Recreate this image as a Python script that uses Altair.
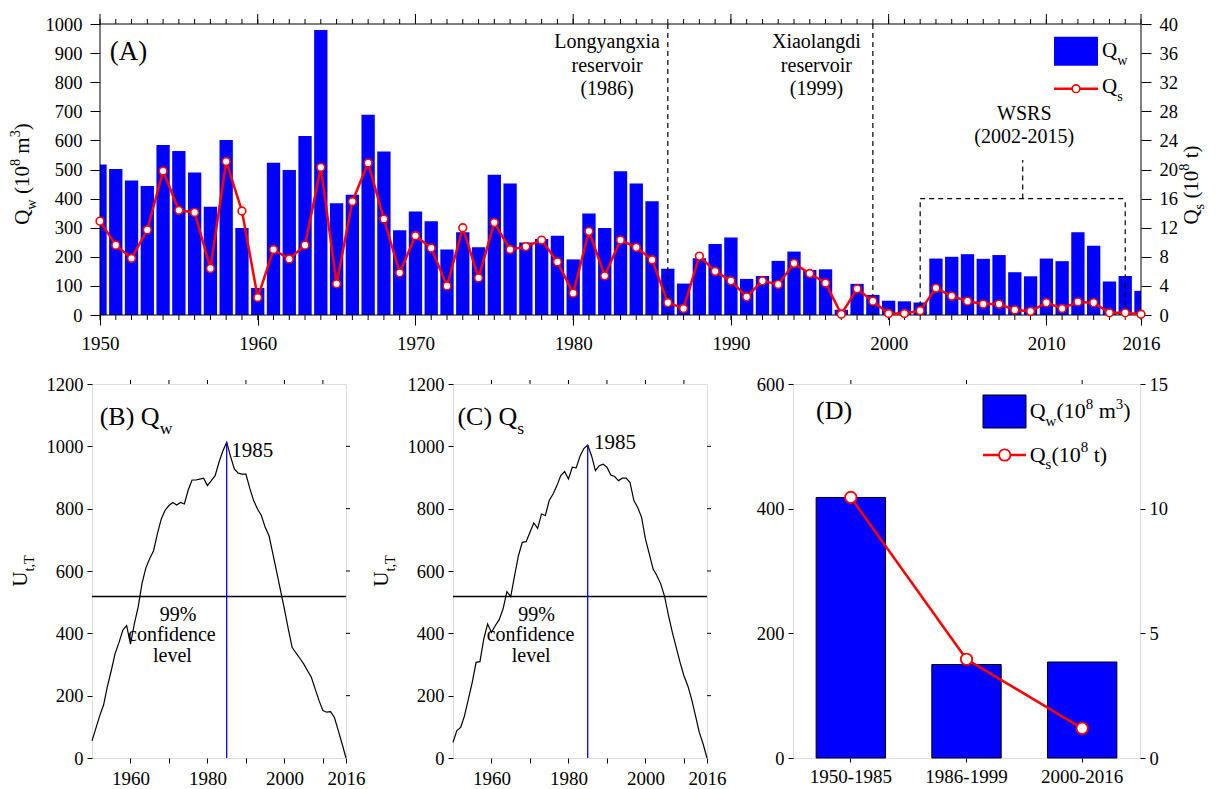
import altair as alt
import pandas as pd

FONT = "Liberation Serif"

# ---------------- data ----------------
years = list(range(1950, 2017))
qw = [517, 502, 462, 443, 584, 564, 490, 372, 601, 299,
      93, 523, 498, 615, 979, 384, 413, 688, 562, 291,
      356, 322, 225, 284, 233, 482, 452, 249, 261, 272,
      191, 349, 299, 494, 452, 391, 159, 108, 195, 244,
      266, 124, 134, 186, 218, 155, 157, 18, 107, 69,
      49, 47, 43, 194, 200, 209, 193, 206, 147, 133,
      194, 185, 284, 238, 115, 134, 83]
qs = [12.9, 9.6, 7.8, 11.7, 19.8, 14.4, 14.1, 6.4, 21.1, 14.3,
      2.4, 9.0, 7.7, 9.6, 20.3, 4.3, 15.6, 20.9, 13.2, 5.8,
      10.9, 9.2, 4.0, 12.0, 5.1, 12.7, 9.0, 9.4, 10.3, 7.3,
      3.0, 11.5, 5.4, 10.3, 9.3, 7.6, 1.7, 0.9, 8.1, 6.0,
      4.7, 2.5, 4.7, 4.2, 7.1, 5.7, 4.4, 0.1, 3.6, 1.9,
      0.2, 0.2, 0.6, 3.7, 2.6, 1.9, 1.5, 1.5, 0.7, 0.5,
      1.7, 0.9, 1.8, 1.7, 0.3, 0.3, 0.1]
ut_qw = [55, 95, 135, 170, 230, 280, 335, 370, 410, 425,
         365, 430, 485, 560, 610, 640, 665, 720, 767, 795,
         810, 820, 812, 820, 815, 860, 892, 892, 895, 898,
         874, 890, 906, 949, 985, 1013, 968, 927, 914, 911,
         911, 865, 826, 799, 778, 740, 713, 655, 596, 537,
         478, 414, 355, 337, 320, 302, 280, 259, 221, 184,
         152, 147, 149, 130, 88, 45, 0]
ut_qs = [50, 88, 98, 136, 189, 243, 307, 309, 382, 430,
         403, 425, 444, 478, 534, 518, 585, 649, 692, 694,
         724, 754, 737, 783, 778, 826, 847, 874, 906, 919,
         895, 933, 931, 968, 993, 1004, 970, 922, 938, 943,
         933, 908, 903, 890, 898, 898, 884, 826, 804, 772,
         703, 655, 606, 585, 558, 518, 457, 403, 355, 307,
         264, 232, 189, 136, 82, 45, 0]
periods = ["1950-1985", "1986-1999", "2000-2016"]
period_qw = [418, 150, 154]
period_qs = [10.45, 3.96, 1.19]
reservoir_years = [1986, 1999]
threshold = 518
change_year = 1985
x_major_a = [1950, 1960, 1970, 1980, 1990, 2000, 2010, 2016]
x_ticks_b = [1960, 1970, 1980, 1990, 2000, 2010, 2016]

# ---------------- sizes ----------------
SHIFT = 8                     # panel A frame sits 8 px right of the row-2 origin
WA0, HA = 1041, 291           # panel A frame size
WA = WA0 + SHIFT
PXY = WA0 / 66.0              # px per year in panel A
WB, HB = 254, 374
WD = 347

ONE = pd.DataFrame({"k": [0]})
ax = dict(labelFont=FONT, labelColor="black", tickColor="black", tickWidth=1,
          domain=False, grid=False, title=None)

CW = {"Q": 0.722, "w": 0.722, "s": 0.389, " ": 0.25, "(": 0.333, ")": 0.333,
      "m": 0.778, "t": 0.278, "U": 0.722, ",": 0.25, "T": 0.611, "A": 0.722,
      "B": 0.667, "C": 0.667, "D": 0.722, "%": 0.833}


def tw(s, fs):
    return sum(CW.get(c, 0.5) for c in s) * fs


def text_marks(pieces, fs, x0, y0, angle=0, center=False, subdrop=0.35):
    items, off = [], 0.0
    for t, k in pieces:
        s = fs if k == "n" else fs * 0.68
        d = 0.0 if k == "n" else (subdrop * fs if k == "sub" else -0.42 * fs)
        lead = len(t) - len(t.lstrip(" "))
        off += lead * 0.25 * s
        t2 = t.strip(" ")
        items.append((t2, s, off, d))
        off += tw(t2, s)
    total = off
    charts = []
    for t, s, o, d in items:
        if center:
            o -= total / 2
        if angle == 0:
            px, py = x0 + o, y0 + d
        else:
            px, py = x0 + d, y0 - o
        charts.append(
            alt.Chart(ONE).mark_text(font=FONT, fontSize=s, align="left",
                                     baseline="alphabetic", angle=angle, color="black")
            .encode(x=alt.value(px), y=alt.value(py), text=alt.value(t))
        )
    return charts


# ================= Panel A =================
dfa = pd.DataFrame({"year": years, "qw": qw, "qs": qs})
xA = alt.Scale(domain=[1950 - SHIFT / PXY, 2016], nice=False, zero=False)
yA = alt.Scale(domain=[0, 1000], nice=False)
yA2 = alt.Scale(domain=[0, 40], nice=False)
axXA = alt.Axis(values=x_major_a, format="d", tickSize=10, labelFontSize=19, labelPadding=9,
                labelFlush=False, labelOverlap=False, **ax)
axYA = alt.Axis(values=list(range(0, 1001, 100)), format="d", tickSize=10, labelFontSize=18.5,
                labelPadding=8, offset=-SHIFT, **ax)
axYA2 = alt.Axis(orient="right", values=list(range(0, 41, 4)), format="d", tickSize=10,
                 labelFontSize=18.5, labelPadding=8, **ax)


def XA(f="year"):
    return alt.X(f + ":Q", scale=xA, axis=axXA)


def YA(f):
    return alt.Y(f + ":Q", scale=yA, axis=axYA)


bars_a = alt.Chart(dfa).transform_calculate(
    x0="max(datum.year - 0.422, 1950)", x1="min(datum.year + 0.422, 2016)"
).mark_rect(color="#0000ff").encode(x=XA("x0"), x2="x1:Q", y=YA("qw"), y2=alt.datum(0))

frame = pd.DataFrame({"x": [1950, 1950, 1950, 2016], "x2": [2016, 2016, 1950, 2016],
                      "y": [0, 1000, 0, 0], "y2": [0, 1000, 1000, 1000]})
frame_a = alt.Chart(frame).mark_rule(color="black", strokeWidth=1).encode(
    x=XA("x"), x2="x2:Q", y=YA("y"), y2="y2:Q")

dfy = pd.DataFrame({"year": years})
dfmaj = pd.DataFrame({"year": x_major_a})
tick_bot = alt.Chart(dfy).mark_rule(color="black").encode(x=XA(), y=alt.value(HA), y2=alt.value(HA + 5))
tick_top = alt.Chart(dfy).mark_rule(color="black").encode(x=XA(), y=alt.value(0), y2=alt.value(-5))
tick_top_maj = alt.Chart(dfmaj).mark_rule(color="black").encode(x=XA(), y=alt.value(0), y2=alt.value(-10))

res_rules = alt.Chart(pd.DataFrame({"year": reservoir_years})).mark_rule(
    color="black", strokeDash=[5, 4], strokeWidth=1.2).encode(x=XA())

bracket = pd.DataFrame({"x": [2002, 2002, 2015, 2008.5], "x2": [2015, 2002, 2015, 2008.5],
                        "y": [400, 30, 30, 400], "y2": [400, 400, 400, 533]})
wsrs = alt.Chart(bracket).mark_rule(color="black", strokeDash=[5, 4], strokeWidth=1.2).encode(
    x=XA("x"), x2="x2:Q", y=YA("y"), y2="y2:Q")

ann_a = pd.DataFrame({
    "year": [1982.15] * 3 + [1995.42] * 3 + [2008.6] * 2,
    "val": [937, 856, 778, 937, 856, 778, 692, 611],
    "text": ["Longyangxia", "reservoir", "(1986)", "Xiaolangdi", "reservoir", "(1999)",
             "WSRS", "(2002-2015)"]})
ann_a_txt = alt.Chart(ann_a).mark_text(font=FONT, fontSize=20, align="center", baseline="middle",
                                       color="black").encode(x=XA(), y=YA("val"), text="text:N")

S = SHIFT
leg_rect_a = alt.Chart(ONE).mark_rect(color="#0000ff").encode(
    x=alt.value(S + 954), x2=alt.value(S + 998), y=alt.value(12.7), y2=alt.value(41.7))
leg_line_a = alt.Chart(ONE).mark_rule(color="red", strokeWidth=2.5).encode(
    x=alt.value(S + 954), x2=alt.value(S + 998), y=alt.value(64.7))
leg_pt_a = alt.Chart(ONE).mark_circle(size=60, fill="white", stroke="red", strokeWidth=1.6,
                                      opacity=1).encode(x=alt.value(S + 976), y=alt.value(64.7))

texts_a = []
texts_a += text_marks([("(A)", "n")], 27, S + 9.7, 36)
texts_a += text_marks([("Q", "n"), ("w", "sub")], 21, S + 1002, 33.4)
texts_a += text_marks([("Q", "n"), ("s", "sub")], 21, S + 1002, 69.4)
texts_a += text_marks([("Q", "n"), ("w", "sub"), (" (10", "n"), ("8", "sup"), (" m", "n"),
                       ("3", "sup"), (")", "n")], 21, S - 71, 150, angle=270, center=True)
texts_a += text_marks([("Q", "n"), ("s", "sub"), (" (10", "n"), ("8", "sup"), (" t)", "n")],
                      21, S + 1098, 161, angle=270, center=True, subdrop=0.28)

YA2 = alt.Y("qs:Q", scale=yA2, axis=axYA2)
line_a = alt.Chart(dfa).mark_line(color="red", strokeWidth=2.5).encode(x=XA(), y=YA2)
pts_a = alt.Chart(dfa).mark_circle(size=60, fill="white", stroke="red", strokeWidth=1.6,
                                   opacity=1).encode(x=XA(), y=YA2)

left_a = alt.layer(bars_a, frame_a, tick_bot, tick_top, tick_top_maj, res_rules, wsrs, ann_a_txt,
                   leg_rect_a, leg_line_a, leg_pt_a, *texts_a)
right_a = alt.layer(line_a, pts_a)
panel_a = alt.layer(left_a, right_a).resolve_scale(y="independent").properties(
    width=WA, height=HA, view=alt.ViewBackground(stroke="transparent"))


# ================= Panels B, C =================
def ut_panel(vals, letter, sub, lbl_x, yr_xy, conf_x):
    df = pd.DataFrame({"year": years, "u": vals})
    xs = alt.Scale(domain=[1950, 2016], nice=False, zero=False)
    ys = alt.Scale(domain=[0, 1200], nice=False)
    axx = alt.Axis(values=x_ticks_b, format="d", tickSize=5, labelFontSize=19, labelPadding=6,
                   labelFlush=False, labelOverlap=False,
                   labelExpr="(datum.value % 20 == 0 || datum.value == 2016) ? datum.label : ''", **ax)
    axy = alt.Axis(values=list(range(0, 1201, 200)), format="d", tickSize=5, labelFontSize=18.5,
                   labelPadding=4, **ax)

    def X():
        return alt.X("year:Q", scale=xs, axis=axx)

    def Y(f):
        return alt.Y(f + ":Q", scale=ys, axis=axy)

    curve = alt.Chart(df).mark_line(color="black", strokeWidth=1.2).encode(x=X(), y=Y("u"))
    thr = alt.Chart(pd.DataFrame({"u": [threshold]})).mark_rule(color="black", strokeWidth=1.5).encode(
        y=Y("u"))
    peak = vals[years.index(change_year)]
    cp = alt.Chart(pd.DataFrame({"year": [change_year], "u0": [0], "u1": [peak]})).mark_rule(
        color="#0000ff", strokeWidth=1.3).encode(x=X(), y=Y("u0"), y2="u1:Q")
    ttop = alt.Chart(pd.DataFrame({"year": x_ticks_b[:-1]})).mark_rule(color="black").encode(
        x=X(), y=alt.value(0), y2=alt.value(-4))
    tright = alt.Chart(pd.DataFrame({"u": list(range(200, 1001, 200))})).mark_rule(color="black").encode(
        y=Y("u"), x=alt.value(WB), x2=alt.value(WB + 4))
    txt = []
    txt += text_marks([("(" + letter + ") Q", "n"), (sub, "sub")], 26, lbl_x, 41)
    txt += text_marks([(str(change_year), "n")], 21, yr_xy[0], yr_xy[1])
    for line, py in zip(["99%", "confidence", "level"], [236.7, 256.7, 278.3]):
        txt += text_marks([(line, "n")], 20, conf_x, py, center=True)
    txt += text_marks([("U", "n"), ("t,T", "sub")], 21, -65, 187, angle=270, center=True)
    return alt.layer(curve, thr, cp, ttop, tright, *txt).properties(width=WB, height=HB)


panel_b = ut_panel(ut_qw, "B", "w", 7.7, (139.3, 73.3), 86)
panel_c = ut_panel(ut_qs, "C", "s", 4.4, (141, 65), 83.7)

# ================= Panel D =================
dfd = pd.DataFrame({"period": periods, "qw": period_qw, "qs": period_qs})
xD = alt.Scale(domain=periods, paddingInner=0.4, paddingOuter=0.2)
axXD = alt.Axis(labelAngle=0, tickSize=4, labelFontSize=19, labelPadding=5, **ax)
XD = alt.X("period:N", scale=xD, sort=periods, axis=axXD)
ysD2 = alt.Scale(domain=[0, 15], nice=False)
YD2 = alt.Y("qs:Q", scale=ysD2, axis=alt.Axis(orient="right", values=[0, 5, 10, 15], tickSize=5,
                                               labelFontSize=18.5, labelPadding=4, **ax))
bars_d = alt.Chart(dfd).mark_bar(color="#0000ff", stroke="black", strokeWidth=1).encode(
    x=XD, y=alt.Y("qw:Q", scale=alt.Scale(domain=[0, 600], nice=False),
                  axis=alt.Axis(values=[0, 200, 400, 600], tickSize=5, labelFontSize=18.5,
                                labelPadding=4, **ax)))
ttop_d = alt.Chart(dfd).mark_rule(color="black").encode(x=XD, y=alt.value(0), y2=alt.value(-4))
leg_rect_d = alt.Chart(ONE).mark_rect(color="#0000ff", stroke="black", strokeWidth=1).encode(
    x=alt.value(190), x2=alt.value(233), y=alt.value(11), y2=alt.value(44))
leg_line_d = alt.Chart(ONE).mark_rule(color="red", strokeWidth=2.5).encode(
    x=alt.value(190), x2=alt.value(233), y=alt.value(71))
leg_pt_d = alt.Chart(ONE).mark_circle(size=130, fill="white", stroke="red", strokeWidth=1.8,
                                      opacity=1).encode(x=alt.value(211.7), y=alt.value(71))
texts_d = []
texts_d += text_marks([("(D)", "n")], 26, 23, 35)
texts_d += text_marks([("Q", "n"), ("w", "sub"), ("(10", "n"), ("8", "sup"), (" m", "n"),
                       ("3", "sup"), (")", "n")], 22, 236.7, 34.3)
texts_d += text_marks([("Q", "n"), ("s", "sub"), ("(10", "n"), ("8", "sup"), (" t)", "n")],
                      22, 236.7, 77.7)
line_d = alt.Chart(dfd).mark_line(color="red", strokeWidth=2.5).encode(x=XD, y=YD2)
pts_d = alt.Chart(dfd).mark_circle(size=130, fill="white", stroke="red", strokeWidth=1.8,
                                   opacity=1).encode(x=XD, y=YD2)
panel_d = alt.layer(alt.layer(bars_d, ttop_d, leg_rect_d, leg_line_d, leg_pt_d, *texts_d),
                    alt.layer(line_d, pts_d)).resolve_scale(y="independent").properties(width=WD, height=HB)

row2 = alt.hconcat(alt.hconcat(panel_b, panel_c, spacing=4), panel_d, spacing=28)
chart = alt.vconcat(panel_a, row2, spacing=20).properties(
    padding={"left": 0, "top": 5, "right": 0, "bottom": 0}
).configure_view(stroke="black", strokeWidth=1).configure_axis(
    labelFont=FONT
).configure(background="white")

chart.save("out.html", embed_options={"renderer": "svg", "actions": False})
